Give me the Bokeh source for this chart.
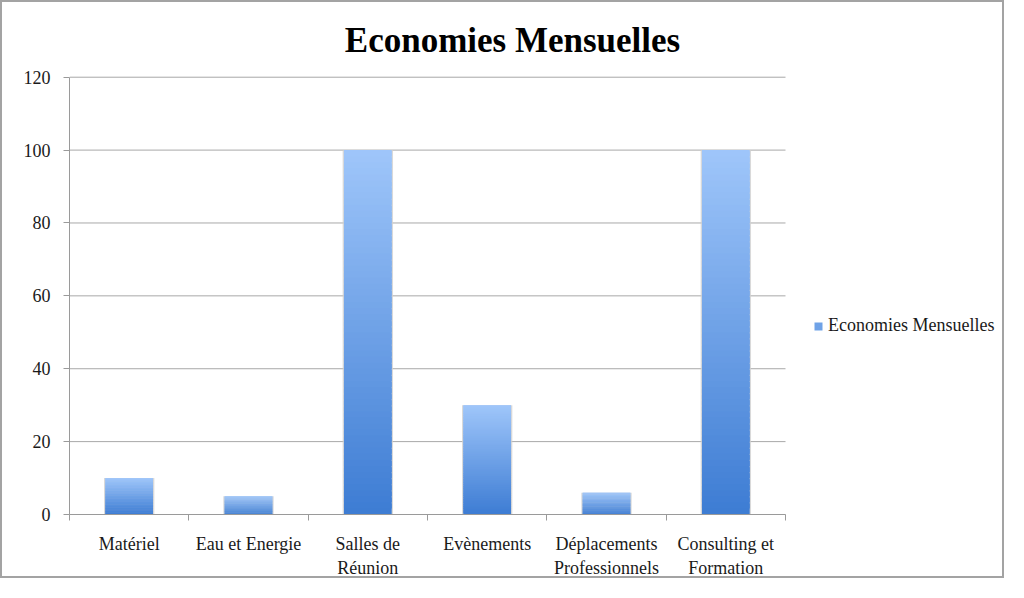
from bokeh.plotting import figure
from bokeh.models import Range1d, FixedTicker, Legend, LegendItem, Label
from bokeh.embed import file_html
from bokeh.resources import INLINE

# ---- data ----
categories = ["Matériel", "Eau et Energie", "Salles de\nRéunion", "Evènements",
              "Déplacements\nProfessionnels", "Consulting et\nFormation"]
values = [10, 5, 100, 30, 6, 100]
y_ticks = [0, 20, 40, 60, 80, 100, 120]
y_max = 120
series_name = "Economies Mensuelles"
title_text = "Economies Mensuelles"

FONT = "Liberation Serif"
W, H = 1004, 578
n = len(categories)

# layout in pixels
LEFT, RIGHT, TOP, BOTTOM = 67, 2, 2, 64
PLOT_W, PLOT_H = 716, 439          # size of the bar area
frame_w = W - LEFT - RIGHT
frame_h = H - TOP - BOTTOM
ppx = PLOT_W / n                   # pixels per x unit
ppy = PLOT_H / y_max               # pixels per y unit
x_end = frame_w / ppx
y_end = frame_h / ppy

p = figure(width=W, height=H, x_range=Range1d(0, x_end), y_range=Range1d(0, y_end),
           output_backend="svg", toolbar_location=None,
           min_border_left=LEFT, min_border_right=RIGHT, min_border_top=TOP,
           min_border_bottom=BOTTOM)
p.outline_line_color = None
p.background_fill_color = "white"
p.border_fill_color = "white"
p.styles = {"border": "2px solid #a3a3a3"}

# ---- horizontal grid lines (only over bar area) ----
p.segment(x0=[0] * len(y_ticks), y0=y_ticks, x1=[n] * len(y_ticks), y1=y_ticks,
          line_color="#a8a8a8", line_width=1)
p.xgrid.grid_line_color = None
p.ygrid.grid_line_color = None

# ---- bars with vertical gradient (slices) ----
def lerp(c1, c2, t):
    return "#%02x%02x%02x" % tuple(int(round(a + (b - a) * t)) for a, b in zip(c1, c2))

dark = (0x3d, 0x7c, 0xd3)
light = (0x9f, 0xc6, 0xfa)
N = 60
bar_w = 0.40
xs = [i + 0.5 for i in range(n)]

# soft shadow
p.vbar(x=xs, top=values, width=bar_w + 0.022, bottom=0, fill_color="#cfcfcf",
       fill_alpha=0.8, line_color=None)

sx, sb, st, sc = [], [], [], []
for x, v in zip(xs, values):
    for k in range(N):
        sx.append(x)
        sb.append(v * k / N)
        st.append(min(v, v * (k + 1.8) / N))
        sc.append(lerp(dark, light, (k + 0.5) / N))
slices = p.vbar(x=sx, bottom=sb, top=st, width=bar_w, fill_color=sc, line_color=None)

# ---- axes ----
p.yaxis.bounds = (0, y_max)
p.yaxis.ticker = FixedTicker(ticks=y_ticks)
p.yaxis.minor_tick_line_color = None
p.yaxis.major_tick_in = 0
p.yaxis.major_tick_out = 6
p.yaxis.major_tick_line_color = "#9a9a9a"
p.yaxis.axis_line_color = "#9a9a9a"
p.yaxis.major_label_text_font = FONT
p.yaxis.major_label_text_font_size = "18px"
p.yaxis.major_label_text_color = "#1a1a1a"
p.yaxis.major_label_standoff = 13

p.xaxis.bounds = (0, n)
p.xaxis.ticker = FixedTicker(ticks=xs, minor_ticks=list(range(n + 1)))
p.xaxis.major_label_overrides = {x: c for x, c in zip(xs, categories)}
p.xaxis.major_tick_line_color = None
p.xaxis.major_tick_in = 0
p.xaxis.major_tick_out = 0
p.xaxis.minor_tick_in = 0
p.xaxis.minor_tick_out = 6
p.xaxis.minor_tick_line_color = "#9a9a9a"
p.xaxis.axis_line_color = "#9a9a9a"
p.xaxis.major_label_text_font = FONT
p.xaxis.major_label_text_font_size = "18px"
p.xaxis.major_label_text_color = "#1a1a1a"
p.xaxis.major_label_text_line_height = 1.2
p.xaxis.major_label_standoff = 13

# ---- title (centred on the whole chart) ----
title_cx, title_cy = 510, 38       # pixel position in the canvas
p.add_layout(Label(x=(title_cx - LEFT) / ppx, y=(H - BOTTOM - title_cy) / ppy,
                   text=title_text, text_font=FONT, text_font_size="35px",
                   text_font_style="bold", text_align="center", text_baseline="middle",
                   text_color="black"))

# ---- legend ----
legend = Legend(items=[LegendItem(label=series_name, renderers=[slices], index=N // 2)],
                location=(744, 178), orientation="vertical")
legend.border_line_color = None
legend.background_fill_alpha = 0
legend.padding = 0
legend.margin = 0
legend.glyph_width = 10
legend.glyph_height = 10
legend.label_standoff = 5
legend.label_text_font = FONT
legend.label_text_font_size = "18px"
legend.label_text_color = "#1a1a1a"
p.add_layout(legend)

open("out.html", "w").write(file_html(p, INLINE))
